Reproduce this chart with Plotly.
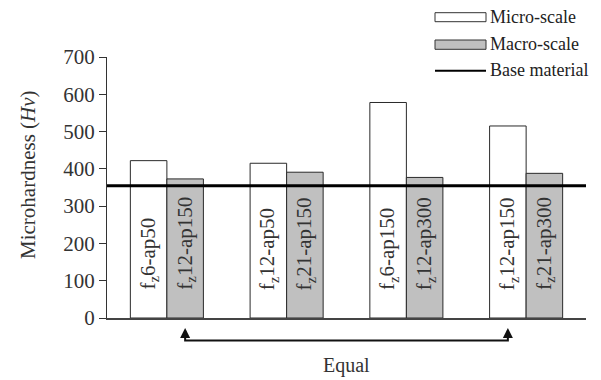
import plotly.graph_objects as go

# ---- data ----
groups = ["G1", "G2", "G3", "G4"]
micro_values = [422, 415, 578, 515]
macro_values = [373, 391, 377, 388]
micro_labels = ["f<sub>z</sub>6-ap50", "f<sub>z</sub>12-ap50", "f<sub>z</sub>6-ap150", "f<sub>z</sub>12-ap150"]
macro_labels = ["f<sub>z</sub>12-ap150", "f<sub>z</sub>21-ap150", "f<sub>z</sub>12-ap300", "f<sub>z</sub>21-ap300"]
base_value = 355
y_ticks = [0, 100, 200, 300, 400, 500, 600, 700]
series_names = ["Micro-scale", "Macro-scale", "Base material"]
equal_label = "Equal"
y_title = "Microhardness (<i>Hv</i>)"

# ---- layout constants ----
W, H = 601, 380
ML, MR, MT, MB = 107, 15, 57, 62
PW, PH = W - ML - MR, H - MT - MB
FONT = "Liberation Serif"
BARGAP = 0.39
half = (1 - BARGAP) / 2  # width of one bar in category units


def px(xp):
    return (xp - ML) / PW


def py(yp):
    return (H - MB - yp) / PH


xs = list(range(len(groups)))

fig = go.Figure()
fig.add_trace(go.Bar(x=xs, y=micro_values, name=series_names[0],
                     marker=dict(color="white", line=dict(color="#2a2a2a", width=1)),
                     showlegend=False, hoverinfo="skip"))
fig.add_trace(go.Bar(x=xs, y=macro_values, name=series_names[1],
                     marker=dict(color="#c0c0c0", line=dict(color="#2a2a2a", width=1)),
                     showlegend=False, hoverinfo="skip"))

annotations = []
shapes = []

# in-bar rotated labels
for i in xs:
    for lab, off in ((micro_labels[i], -half / 2), (macro_labels[i], half / 2)):
        annotations.append(dict(x=i + off, y=0, xref="x", yref="y", text=lab,
                                textangle=-90, showarrow=False, yanchor="bottom",
                                xanchor="center", yshift=26,
                                font=dict(family=FONT, size=21, color="#333")))

# base material line
shapes.append(dict(type="line", xref="paper", x0=0, x1=1, yref="y", y0=base_value, y1=base_value,
                   line=dict(color="black", width=3)))

# legend (manual)
lx0, lx1 = px(435), px(486)
shapes.append(dict(type="rect", xref="paper", yref="paper", x0=lx0, x1=lx1, y0=py(21.7), y1=py(12.7),
                   fillcolor="white", line=dict(color="#333", width=1)))
shapes.append(dict(type="rect", xref="paper", yref="paper", x0=lx0, x1=lx1, y0=py(49.3), y1=py(40),
                   fillcolor="#c0c0c0", line=dict(color="#333", width=1)))
shapes.append(dict(type="line", xref="paper", yref="paper", x0=lx0, x1=lx1, y0=py(70.7), y1=py(70.7),
                   line=dict(color="black", width=2)))
for name, yc in zip(series_names, (16.5, 44, 70)):
    annotations.append(dict(x=px(488), y=py(yc), xref="paper", yref="paper", text=name,
                            showarrow=False, xanchor="left", yanchor="middle",
                            font=dict(family=FONT, size=18, color="#222")))

# "Equal" bracket
xa = 0 + half / 2
xb = 3 - half / 2
ytip, yline = py(328), py(340.5)
shapes.append(dict(type="path", xref="x", yref="paper",
                   path=f"M {xa},{py(331)} L {xa},{yline} L {xb},{yline} L {xb},{py(331)}",
                   line=dict(color="#111", width=2)))
for xv in (xa, xb):
    annotations.append(dict(x=xv, y=ytip, xref="x", yref="paper", text="", showarrow=True,
                            ax=0, ay=10, arrowhead=2, arrowsize=1, arrowwidth=2, arrowcolor="#111"))
annotations.append(dict(x=px(346), y=py(365), xref="paper", yref="paper", text=equal_label,
                        showarrow=False, xanchor="center", yanchor="middle",
                        font=dict(family=FONT, size=20, color="#333")))

# y-axis title
annotations.append(dict(x=px(28), y=py(175), xref="paper", yref="paper", text=y_title,
                        textangle=-90, showarrow=False, xanchor="center", yanchor="middle",
                        font=dict(family=FONT, size=21, color="#333")))

fig.update_layout(
    width=W, height=H,
    margin=dict(l=ML, r=MR, t=MT, b=MB),
    paper_bgcolor="white", plot_bgcolor="white",
    barmode="group", bargap=BARGAP, bargroupgap=0,
    xaxis=dict(range=[-0.5, 3.5], showticklabels=False, ticks="", showgrid=False,
               zeroline=False, showline=True, linecolor="#444", linewidth=1.5),
    yaxis=dict(range=[0, 700], tickvals=y_ticks, ticks="outside", ticklen=7, tickcolor="#333",
               showgrid=False, zeroline=False, showline=True, linecolor="#333", linewidth=1,
               tickfont=dict(family=FONT, size=21, color="#333")),
    shapes=shapes,
    annotations=annotations,
    showlegend=False,
    hovermode=False,
)

fig.write_html("out.html", config={"displayModeBar": False},
               post_script="document.body.style.margin='0';document.body.style.overflow='hidden';")
